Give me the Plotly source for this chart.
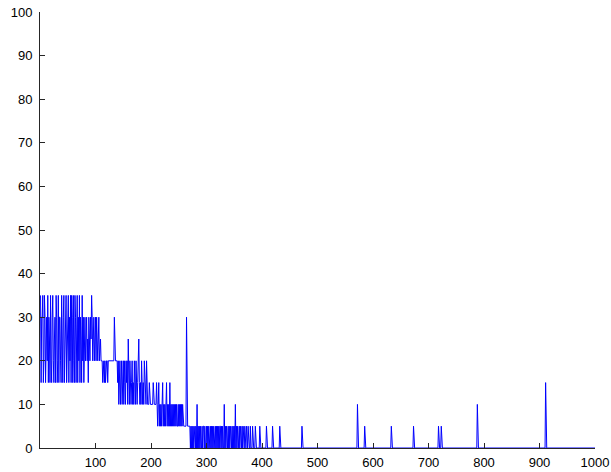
import plotly.graph_objects as go

# Sample values 0..399 (quantised in steps of 5)
dense_values = [
    35, 15, 30, 30, 35, 15, 20, 35, 30, 15,
    30, 30, 20, 35, 15, 30, 25, 15, 35, 20,
    15, 30, 35, 20, 15, 25, 30, 15, 35, 30,
    15, 20, 35, 15, 30, 30, 20, 15, 35, 25,
    15, 30, 35, 15, 20, 30, 35, 15, 25, 30,
    35, 15, 30, 20, 35, 15, 35, 30, 15, 35,
    20, 15, 35, 30, 15, 25, 35, 15, 30, 20,
    35, 15, 30, 25, 15, 35, 20, 30, 15, 25,
    30, 20, 25, 30, 20, 25, 15, 30, 25, 20,
    30, 25, 35, 30, 20, 25, 30, 20, 25, 30,
    20, 30, 25, 20, 25, 30, 20, 25, 25, 20,
    20, 20, 15, 20, 20, 15, 20, 15, 20, 20,
    20, 15, 20, 20, 20, 20, 20, 20, 20, 20,
    20, 20, 20, 30, 20, 20, 20, 20, 20, 15,
    20, 10, 15, 20, 10, 15, 20, 10, 15, 20,
    10, 20, 15, 10, 20, 15, 20, 10, 25, 15,
    10, 20, 15, 10, 15, 20, 10, 15, 10, 20,
    15, 10, 20, 15, 10, 15, 20, 25, 15, 10,
    15, 10, 20, 15, 10, 15, 10, 20, 15, 10,
    10, 20, 10, 10, 10, 10, 15, 10, 10, 10,
    10, 10, 10, 15, 10, 10, 10, 10, 10, 15,
    10, 5, 10, 15, 5, 10, 5, 10, 5, 10,
    15, 5, 10, 5, 10, 5, 10, 15, 5, 10,
    5, 10, 5, 15, 5, 10, 5, 10, 5, 10,
    5, 10, 5, 10, 5, 10, 5, 5, 10, 5,
    10, 5, 10, 5, 10, 5, 10, 5, 5, 5,
    5, 5, 5, 30, 5, 5, 5, 5, 5, 5,
    0, 5, 0, 5, 0, 5, 0, 5, 5, 0,
    5, 0, 10, 0, 5, 0, 5, 0, 5, 0,
    0, 5, 0, 5, 5, 0, 5, 0, 0, 5,
    0, 5, 0, 5, 0, 0, 5, 0, 5, 0,
    5, 0, 5, 0, 0, 5, 0, 5, 0, 5,
    0, 5, 0, 5, 5, 0, 5, 0, 5, 0,
    0, 10, 0, 5, 0, 5, 0, 0, 5, 0,
    5, 0, 5, 0, 0, 5, 0, 5, 0, 5,
    0, 10, 0, 5, 0, 5, 0, 0, 5, 0,
    5, 0, 0, 5, 0, 5, 0, 0, 5, 0,
    0, 5, 0, 0, 5, 0, 0, 0, 5, 0,
    0, 0, 5, 0, 0, 0, 0, 5, 0, 0,
    0, 0, 0, 0, 0, 5, 0, 0, 0, 0,
]

# Isolated non-zero samples from 400 onwards
spike_positions = [407, 418, 431, 471, 571, 584, 632, 672, 717, 722, 787, 910]
spike_heights = [5, 5, 5, 5, 10, 5, 5, 5, 5, 5, 10, 15]

n_samples = 1000

y = list(dense_values) + [0] * (n_samples - len(dense_values))
for pos, h in zip(spike_positions, spike_heights):
    y[pos] = h
x = list(range(1, n_samples + 1))

x_ticks = list(range(100, 1001, 100))
y_ticks = list(range(0, 101, 10))

fig = go.Figure(
    go.Scatter(x=x, y=y, mode="lines", line=dict(color="#0000ff", width=1))
)

axis_common = dict(
    showgrid=False,
    zeroline=False,
    showline=True,
    linecolor="#262626",
    linewidth=1,
    ticks="inside",
    ticklen=5,
    tickcolor="#262626",
    automargin=False,
    tickfont=dict(family="Liberation Sans, Arial", size=13, color="black"),
)

fig.update_layout(
    width=611,
    height=472,
    margin=dict(l=40, r=16, t=12, b=24),
    paper_bgcolor="white",
    plot_bgcolor="white",
    showlegend=False,
    xaxis=dict(range=[0, 1000], tickvals=x_ticks, ticklabelstandoff=2, **axis_common),
    yaxis=dict(range=[0, 100], tickvals=y_ticks, ticklabelstandoff=4, **axis_common),
)

fig.write_html("out.html")
